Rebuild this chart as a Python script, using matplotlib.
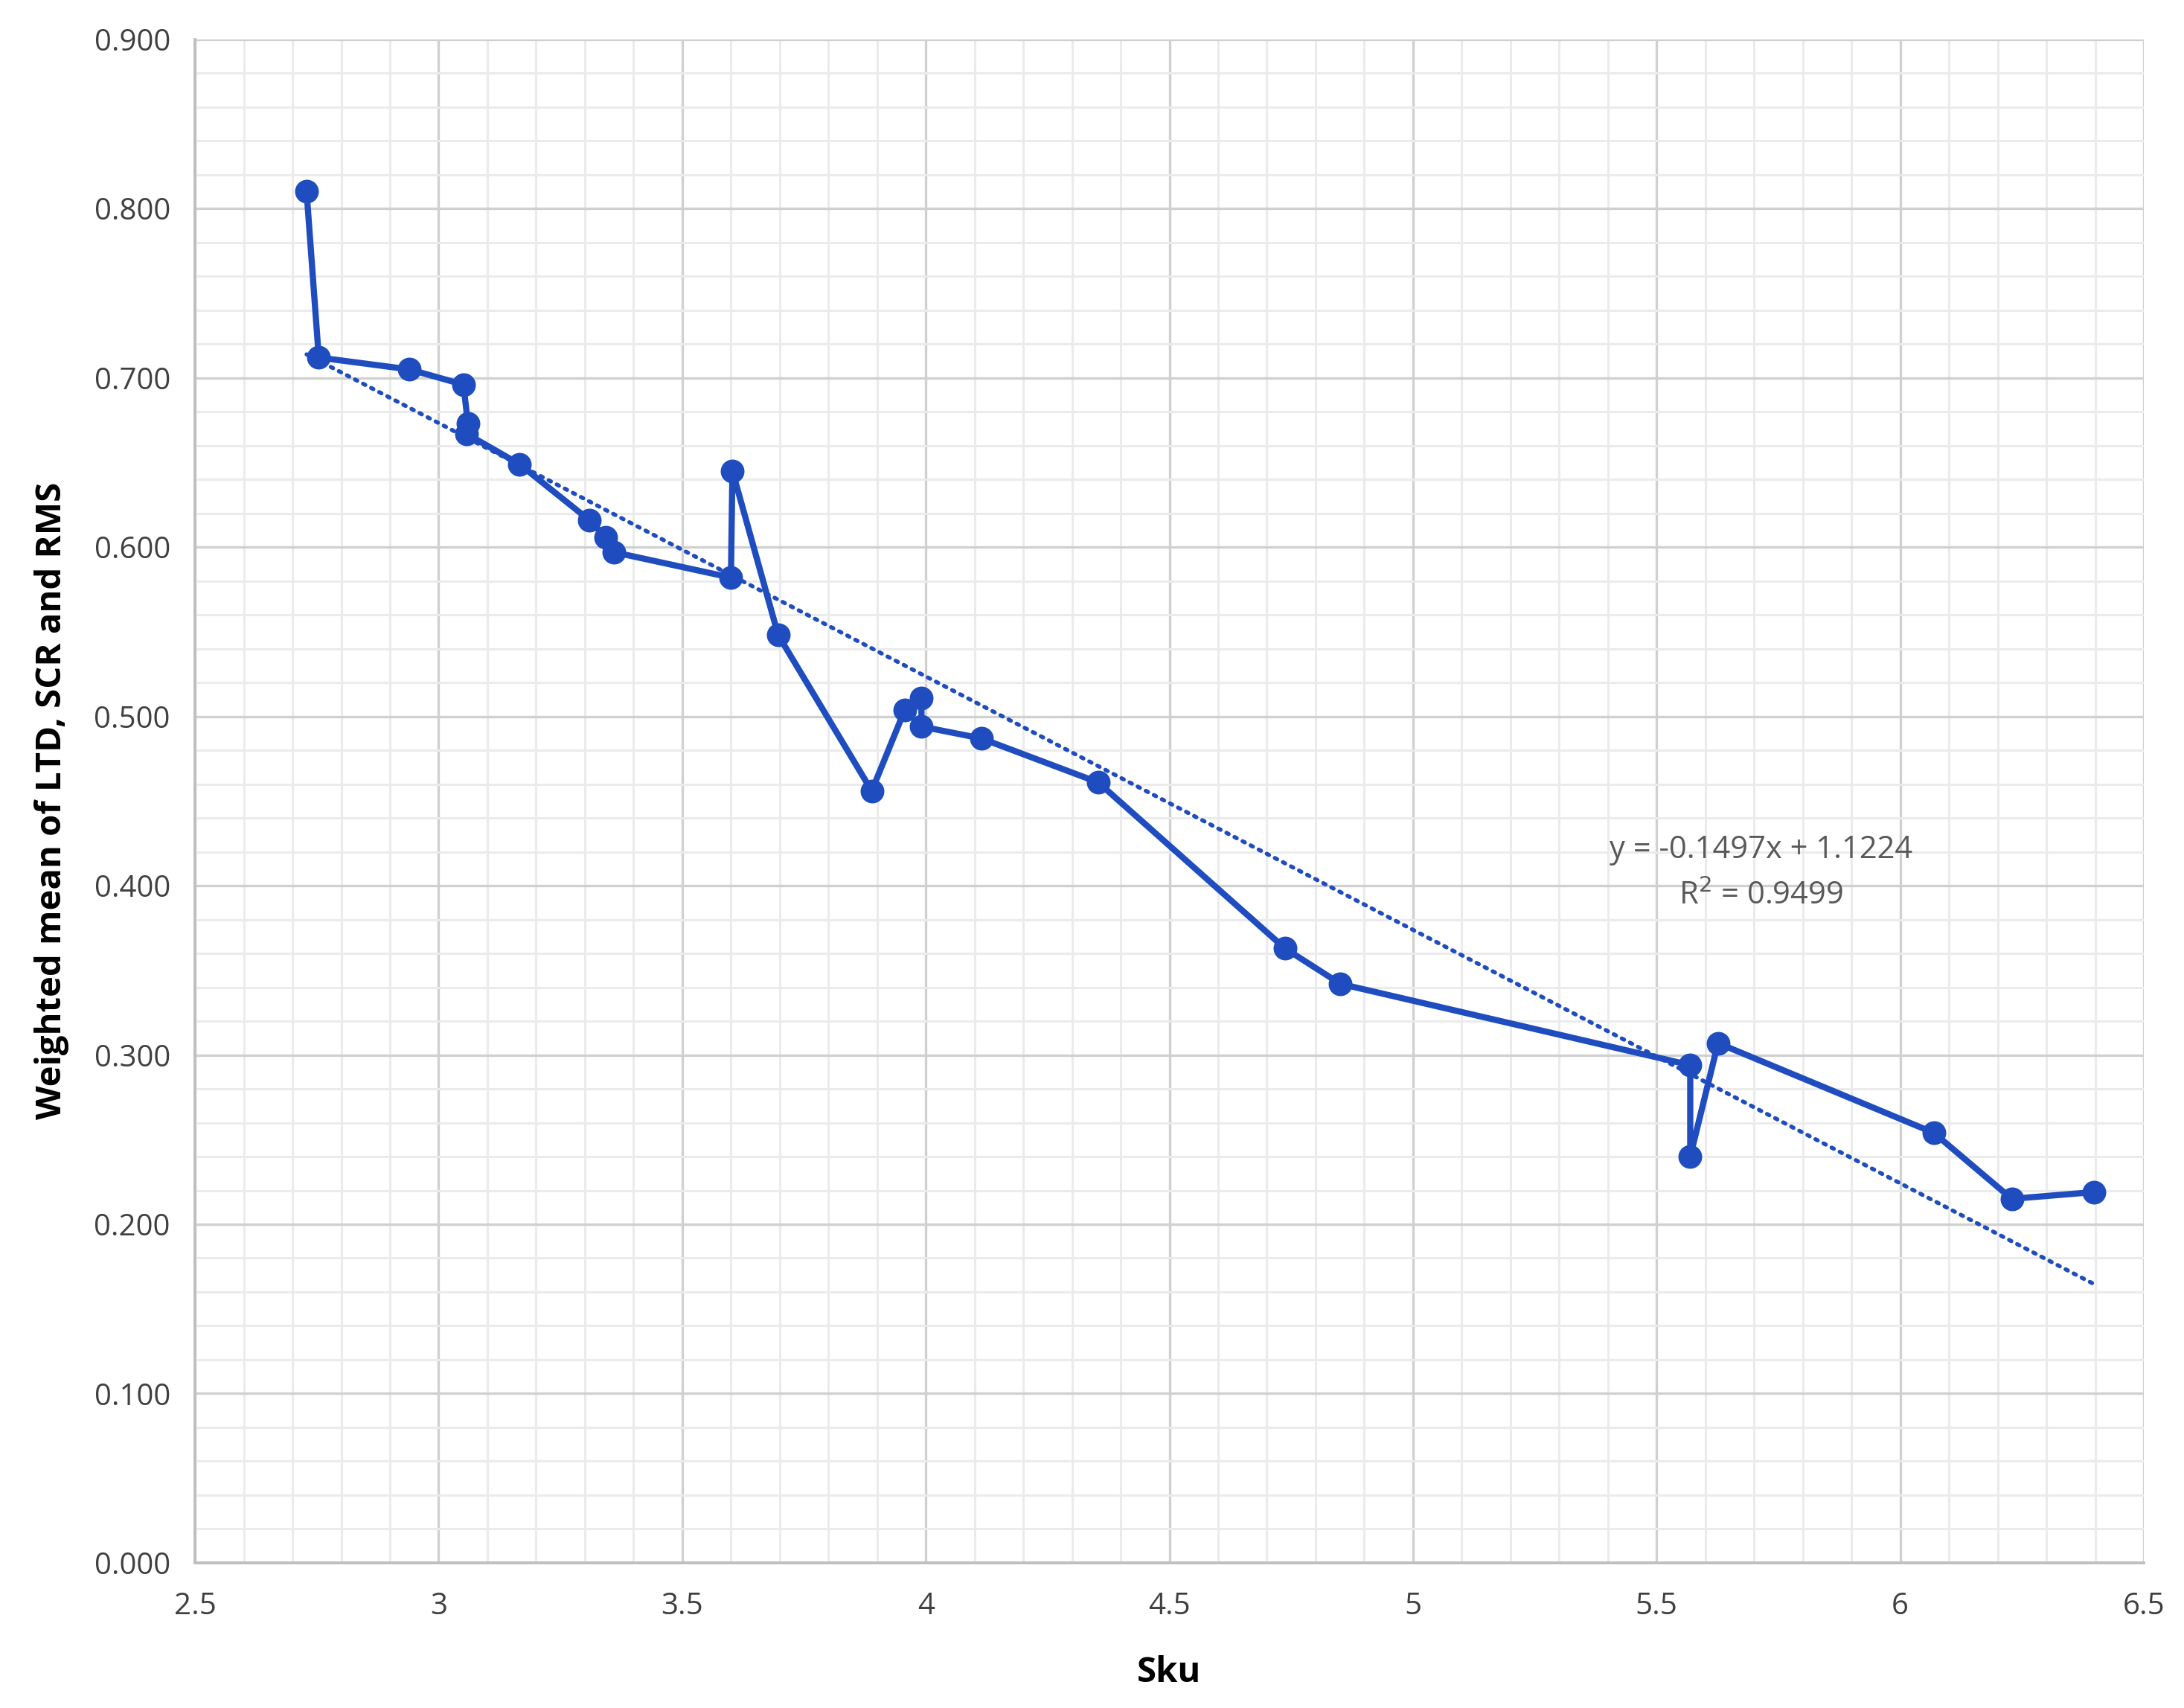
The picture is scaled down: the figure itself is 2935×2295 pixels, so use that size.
import numpy as np
import matplotlib
matplotlib.use('Agg')
import matplotlib.pyplot as plt
from matplotlib.ticker import MultipleLocator, FuncFormatter

# data (Sku vs weighted mean)
sku = [2.729, 2.754, 2.940, 3.051, 3.060, 3.057, 3.166, 3.309, 3.343, 3.360,
       3.600, 3.603, 3.697, 3.889, 3.957, 3.991, 3.991, 4.114, 4.354, 4.737,
       4.851, 5.569, 5.569, 5.626, 6.069, 6.229, 6.397]
wmean = [0.810, 0.712, 0.705, 0.696, 0.673, 0.667, 0.649, 0.616, 0.606, 0.597,
         0.582, 0.645, 0.548, 0.456, 0.504, 0.511, 0.494, 0.487, 0.461, 0.363,
         0.342, 0.294, 0.240, 0.307, 0.254, 0.215, 0.219]

# trend line as printed on the chart
slope = -0.1497
intercept = 1.1224
r2 = 0.9499

blue = '#1F4DBF'
font = 'Open Sans'

fig = plt.figure(figsize=(14.675, 11.475), dpi=200)
ax = fig.add_axes([0.0893, 0.085, 0.8923, 0.892])

# series
ax.plot(sku, wmean, color=blue, linewidth=3.0, marker='o', markersize=10.5,
        zorder=5, solid_joinstyle='round')

# linear trend
tx = np.array([min(sku), max(sku)])
ax.plot(tx, slope * tx + intercept, color=blue, linewidth=2.0,
        linestyle=(0, (0.6, 1.6)), dash_capstyle='round', zorder=4)

ax.text(5.714, 0.421, f"y = {slope:.4f}x + {intercept:.4f}", ha='center', va='center',
        fontsize=15, color='#595959', family=font)
ax.text(5.714, 0.394, f"R$^2$ = {r2:.4f}", ha='center', va='center',
        fontsize=15, color='#595959', family=font)

# axes
ax.set_xlim(2.5, 6.5)
ax.set_ylim(0.0, 0.9)
ax.xaxis.set_major_locator(MultipleLocator(0.5))
ax.xaxis.set_minor_locator(MultipleLocator(0.1))
ax.yaxis.set_major_locator(MultipleLocator(0.1))
ax.yaxis.set_minor_locator(MultipleLocator(0.02))
ax.xaxis.set_major_formatter(FuncFormatter(lambda v, p: f"{v:g}"))
ax.yaxis.set_major_formatter(FuncFormatter(lambda v, p: f"{v:.3f}"))

ax.grid(True, which='major', color='#D0D0D0', linewidth=1.2)
ax.grid(True, which='minor', color='#EBEBEB', linewidth=1.1)
ax.set_axisbelow(True)
ax.tick_params(which='both', length=0)
ax.tick_params(axis='y', pad=12, labelsize=14.5, labelcolor='#404040')
ax.tick_params(axis='x', pad=14, labelsize=14.5, labelcolor='#404040')
for lab in ax.get_xticklabels() + ax.get_yticklabels():
    lab.set_family(font)

for side in ['top', 'right']:
    ax.spines[side].set_visible(False)
for side in ['left', 'bottom']:
    ax.spines[side].set_color('#BFBFBF')
    ax.spines[side].set_linewidth(1.4)

ax.set_xlabel('Sku', fontsize=17, fontweight='bold', family=font, labelpad=16)
ax.set_ylabel('Weighted mean of LTD, SCR and RMS', fontsize=17, fontweight='bold',
              family=font, labelpad=12)

plt.savefig('out.png', dpi=200, facecolor='white')
